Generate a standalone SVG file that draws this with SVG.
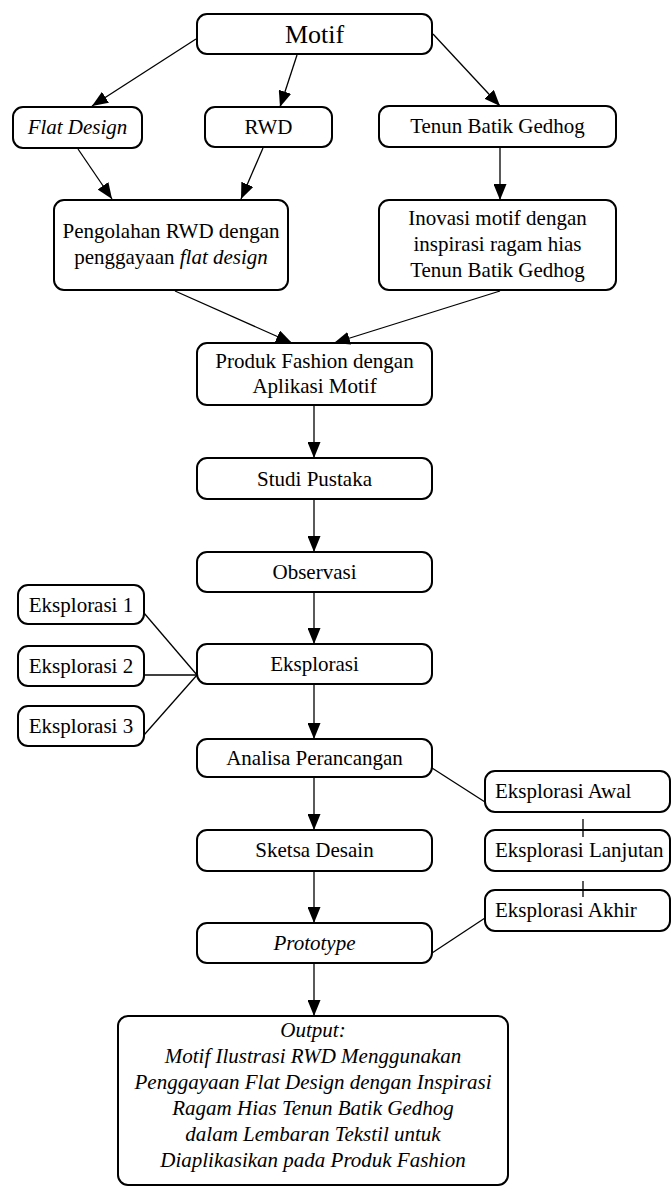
<svg xmlns="http://www.w3.org/2000/svg" width="672" height="1188" viewBox="0 0 672 1188">
<style>
.b{fill:#fff;stroke:#000;stroke-width:2}
.t{font-family:"Liberation Serif","Times New Roman",serif;font-size:21px;fill:#000;text-anchor:middle}
.i{font-style:italic}
.s{text-anchor:start}
.c line{stroke:#000;stroke-width:1.3}
.c .a{marker-end:url(#ah)}
</style>
<defs>
<marker id="ah" markerUnits="userSpaceOnUse" markerWidth="16" markerHeight="13" refX="16" refY="6.5" orient="auto">
<path d="M0,0 L16,6.5 L0,13 z" fill="#000"/>
</marker>
</defs>
<rect width="672" height="1188" fill="#fff"/>
<g id="motif"><rect class="b" x="197" y="14" width="235" height="40" rx="10"/><text class="t" x="314.5" y="43" style="font-size:26px">Motif</text></g>
<g id="flat"><rect class="b" x="13" y="107" width="129" height="41" rx="10"/><text class="t i" x="77.5" y="134">Flat Design</text></g>
<g id="rwd"><rect class="b" x="205" y="107" width="127" height="40" rx="10"/><text class="t" x="268.5" y="134">RWD</text></g>
<g id="tenun"><rect class="b" x="379" y="106" width="237" height="41" rx="10"/><text class="t" x="497.5" y="133">Tenun Batik Gedhog</text></g>
<g id="pengolahan"><rect class="b" x="54" y="200" width="234" height="90" rx="10"/><text class="t" x="171" y="238">Pengolahan RWD dengan</text><text class="t" x="171" y="264">penggayaan <tspan class="i">flat design</tspan></text></g>
<g id="inovasi"><rect class="b" x="379" y="200" width="237" height="90" rx="10"/><text class="t" x="497.5" y="225">Inovasi motif dengan</text><text class="t" x="497.5" y="251">inspirasi ragam hias</text><text class="t" x="497.5" y="277">Tenun Batik Gedhog</text></g>
<g id="produk"><rect class="b" x="197" y="343" width="235" height="62" rx="10"/><text class="t" x="314.5" y="368">Produk Fashion dengan</text><text class="t" x="314.5" y="393">Aplikasi Motif</text></g>
<g id="studi"><rect class="b" x="197" y="458" width="235" height="41" rx="10"/><text class="t" x="314.5" y="486">Studi Pustaka</text></g>
<g id="observasi"><rect class="b" x="197" y="552" width="235" height="40" rx="10"/><text class="t" x="314.5" y="579">Observasi</text></g>
<g id="eksplorasi1"><rect class="b" x="18" y="585" width="126" height="39" rx="10"/><text class="t" x="81" y="612">Eksplorasi 1</text></g>
<g id="eksplorasi2"><rect class="b" x="18" y="646" width="126" height="40" rx="10"/><text class="t" x="81" y="673">Eksplorasi 2</text></g>
<g id="eksplorasi3"><rect class="b" x="18" y="706" width="126" height="40" rx="10"/><text class="t" x="81" y="733">Eksplorasi 3</text></g>
<g id="eksplorasi"><rect class="b" x="197" y="644" width="235" height="40" rx="10"/><text class="t" x="314.5" y="671">Eksplorasi</text></g>
<g id="analisa"><rect class="b" x="197" y="739" width="235" height="38" rx="10"/><text class="t" x="314.5" y="765">Analisa Perancangan</text></g>
<g id="sketsa"><rect class="b" x="197" y="830" width="235" height="41" rx="10"/><text class="t" x="314.5" y="857">Sketsa Desain</text></g>
<g id="prototype"><rect class="b" x="197" y="923" width="235" height="40" rx="10"/><text class="t i" x="314.5" y="950">Prototype</text></g>
<g id="awal"><rect class="b" x="485" y="771" width="185" height="41" rx="10"/><text class="t s" x="495" y="798">Eksplorasi Awal</text></g>
<g id="lanjutan"><rect class="b" x="485" y="830" width="185" height="41" rx="10"/><text class="t s" x="495" y="857">Eksplorasi Lanjutan</text></g>
<g id="akhir"><rect class="b" x="485" y="890" width="185" height="41" rx="10"/><text class="t s" x="495" y="917">Eksplorasi Akhir</text></g>
<g id="output"><rect class="b" x="118" y="1016" width="390" height="169" rx="10"/>
<text class="t i" x="313" y="1037">Output:</text>
<text class="t i" x="313" y="1063">Motif Ilustrasi RWD Menggunakan</text>
<text class="t i" x="313" y="1089">Penggayaan Flat Design dengan Inspirasi</text>
<text class="t i" x="313" y="1115">Ragam Hias Tenun Batik Gedhog</text>
<text class="t i" x="313" y="1141">dalam Lembaran Tekstil untuk</text>
<text class="t i" x="313" y="1167">Diaplikasikan pada Produk Fashion</text>
</g>
<g class="c" id="connectors">
<line class="a" x1="196" y1="39" x2="92" y2="106"/>
<line class="a" x1="297" y1="55" x2="280" y2="107"/>
<line class="a" x1="433" y1="34" x2="500" y2="106"/>
<line class="a" x1="78" y1="149" x2="112" y2="199"/>
<line class="a" x1="263" y1="148" x2="241" y2="199"/>
<line class="a" x1="500" y1="148" x2="500" y2="200"/>
<line class="a" x1="175" y1="291" x2="292" y2="343"/>
<line class="a" x1="500" y1="291" x2="334" y2="343"/>
<line class="a" x1="314" y1="406" x2="314" y2="458"/>
<line class="a" x1="314" y1="500" x2="314" y2="552"/>
<line class="a" x1="314" y1="593" x2="314" y2="644"/>
<line class="a" x1="314" y1="685" x2="314" y2="739"/>
<line class="a" x1="314" y1="778" x2="314" y2="830"/>
<line class="a" x1="314" y1="872" x2="314" y2="923"/>
<line class="a" x1="314" y1="964" x2="314" y2="1016"/>
<line x1="144" y1="613" x2="197" y2="675"/>
<line x1="144" y1="675" x2="197" y2="675"/>
<line x1="144" y1="735" x2="197" y2="675"/>
<line x1="432" y1="768" x2="485" y2="802"/>
<line x1="432" y1="953" x2="485" y2="918"/>
<line x1="583" y1="819" x2="583" y2="837"/>
<line x1="583" y1="881" x2="583" y2="897"/>
</g>
</svg>
